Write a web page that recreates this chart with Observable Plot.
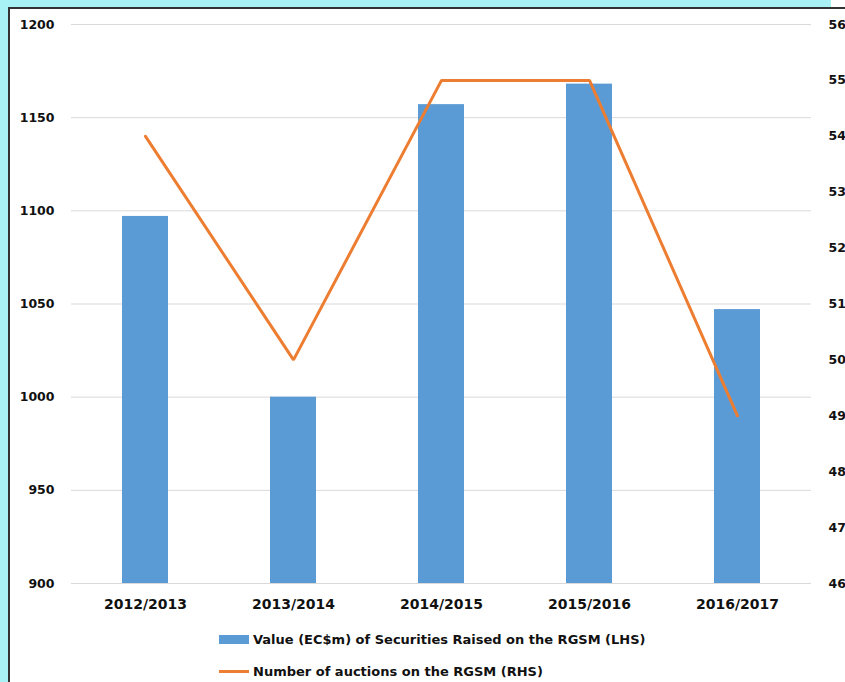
<!DOCTYPE html>
<html>
<head>
<meta charset="utf-8">
<script src="https://cdn.jsdelivr.net/npm/d3@7"></script>
<script src="https://cdn.jsdelivr.net/npm/@observablehq/plot@0.6"></script>
<style>
  html, body { margin: 0; padding: 0; width: 845px; height: 682px; overflow: hidden; background: #a8f2f6; font-family: "DejaVu Sans", sans-serif; }
  #panel { position: absolute; left: 8px; top: 7px; width: 845px; height: 690px; background: #fff; border-left: 2px solid #333; border-top: 2px solid #333; }
  #topright { position: absolute; left: 831px; top: 0; width: 20px; height: 7px; background: #fff; }
  #chart { position: absolute; left: 0; top: 0; }
  .leg { position: absolute; left: 219px; font-weight: bold; font-size: 13px; color: #111; display: flex; align-items: center; white-space: nowrap; }
  .sw { width: 30px; height: 9px; background: #5B9BD5; margin-right: 4px; }
  .ln { width: 30px; height: 3px; background: #ED7D31; margin-right: 4px; }
</style>
</head>
<body>
<div id="topright"></div>
<div id="panel"></div>
<div id="chart"></div>
<div class="leg" style="top:632px"><div class="sw"></div><span id="l1"></span></div>
<div class="leg" style="top:664px"><div class="ln"></div><span id="l2"></span></div>
<script>
const categories = ["2012/2013", "2013/2014", "2014/2015", "2015/2016", "2016/2017"];
const valueRaised = [1097, 1000, 1157, 1168, 1047];   // EC$m, LHS
const auctions = [54, 50, 55, 55, 49];                // count, RHS
const lhsTicks = [900, 950, 1000, 1050, 1100, 1150, 1200];
const rhsTicks = [46, 47, 48, 49, 50, 51, 52, 53, 54, 55, 56];
const seriesNames = ["Value (EC$m) of Securities Raised on the RGSM (LHS)", "Number of auctions on the RGSM (RHS)"];

document.getElementById("l1").textContent = seriesNames[0];
document.getElementById("l2").textContent = seriesNames[1];

// map RHS domain [46,56] onto LHS domain [900,1200]
const toLeft = v => 900 + (v - 46) * 30;
const toRight = v => Math.round((v - 900) / 30 + 46);

const bars = categories.map((c, i) => ({cat: c, v: valueRaised[i]}));
const line = categories.map((c, i) => ({cat: c, v: toLeft(auctions[i])}));

const chart = Plot.plot({
  width: 845,
  height: 620,
  marginLeft: 71,
  marginRight: 34,
  marginTop: 24,
  marginBottom: 37,
  style: {background: "transparent", fontFamily: "DejaVu Sans, sans-serif", fontWeight: "bold", color: "#111", overflow: "visible"},
  x: {domain: categories, paddingInner: 0.69, paddingOuter: 0.345, label: null},
  y: {domain: [900, 1200], label: null},
  marks: [
    Plot.gridY(lhsTicks, {stroke: "#d9d9d9", strokeOpacity: 1, strokeWidth: 1}),
    Plot.barY(bars, {x: "cat", y1: 900, y2: "v", fill: "#5B9BD5"}),
    Plot.lineY(line, {x: "cat", y: "v", stroke: "#ED7D31", strokeWidth: 3, strokeLinejoin: "miter"}),
    Plot.axisY(lhsTicks, {anchor: "left", tickSize: 0, tickPadding: 17, fontSize: 12.5, label: null, tickFormat: d => String(d)}),
    Plot.axisY(rhsTicks.map(toLeft), {anchor: "right", tickSize: 0, tickPadding: 17, fontSize: 12.5, label: null, tickFormat: d => String(toRight(d))}),
    Plot.axisX({tickSize: 0, tickPadding: 16, fontSize: 14, label: null})
  ]
});
document.getElementById("chart").appendChild(chart);
</script>
</body>
</html>
